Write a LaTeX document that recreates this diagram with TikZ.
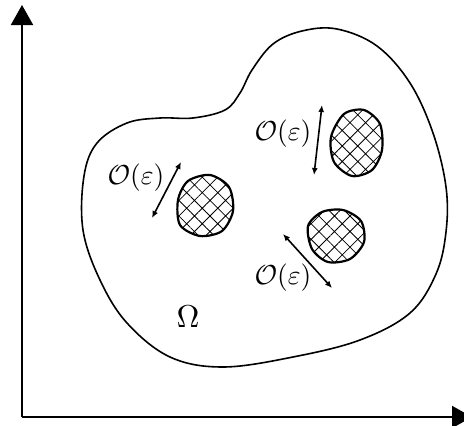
\documentclass[tikz,border=0pt]{standalone}
\usepackage{amsmath,amssymb}
\usepackage{tikz}
\usetikzlibrary{arrows.meta,patterns.meta}

\tikzset{
  axisline/.style={line width=2pt,-{Triangle[length=20pt,width=22pt]}},
  gapline/.style={line width=1.6pt,{Latex[length=7pt,width=6pt]}-{Latex[length=7pt,width=6pt]}},
  hole/.style={line width=2.2pt,pattern={Hatch[angle=45,distance=11pt,line width=0.8pt]}},
  lbl/.style={inner sep=0pt,scale=2.75}
}

\begin{document}
\begin{tikzpicture}[x=1pt,y=-1pt]
\useasboundingbox (0,0) rectangle (464,426);
% axes
\coordinate (O) at (22,417); \coordinate (Ytip) at (22,5); \coordinate (Xtip) at (472,417);
\draw[axisline] (O) -- (Ytip);
\draw[axisline] (O) -- (Xtip);
% domain
\draw[line width=1.6pt] plot[smooth cycle,tension=0.6] coordinates {
  (97,143) (127,123) (160,118) (193,118) (225,110) (240,93) (252,70) (273,44)
  (302,31) (337,29) (377,46) (410,83) (433,133) (446,187) (446,232) (436,274)
  (410,313) (360,340) (293,357) (223,367) (170,357) (127,323) (100,280) (83,230) (84,176)};
% inclusions
\draw[hole] plot[smooth cycle] coordinates {(178,200) (188,181) (210,175) (229,187) (233,211) (222,231) (200,236) (180,225)};
\draw[hole] plot[smooth cycle] coordinates {(331,137) (344,114) (364,110) (380,124) (382,150) (372,170) (352,176) (334,162)};
\draw[hole] plot[smooth cycle] coordinates {(308,226) (322,212) (343,210) (361,221) (364,242) (350,259) (328,262) (312,249)};
% distances
\coordinate (a1) at (181,162); \coordinate (a2) at (152,218);
\coordinate (b1) at (322,105); \coordinate (b2) at (314,175);
\coordinate (c1) at (283,234); \coordinate (c2) at (332,288);
\draw[gapline] (a1) -- (a2);
\draw[gapline] (b1) -- (b2);
\draw[gapline] (c1) -- (c2);
\node[lbl] (epsA) at (136,178) {$\mathcal{O}(\varepsilon)$};
\node[lbl] (epsB) at (283,134) {$\mathcal{O}(\varepsilon)$};
\node[lbl] (epsC) at (283,278) {$\mathcal{O}(\varepsilon)$};
\node[lbl,scale=1.15] (omega) at (188,317) {$\Omega$};
\end{tikzpicture}
\end{document}
